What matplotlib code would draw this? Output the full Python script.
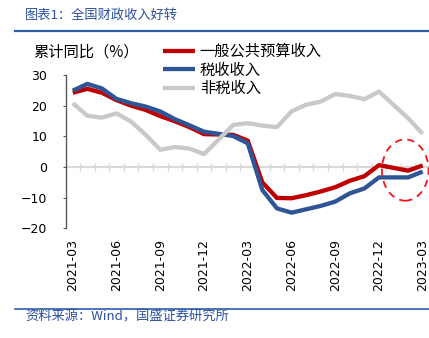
import numpy as np
import matplotlib
matplotlib.use('Agg')
import matplotlib.pyplot as plt
from matplotlib.lines import Line2D
from matplotlib.patches import Ellipse

# 数据 (累计同比, %)；1月与2月合并公布，1月为空
months = ['2021-03', '2021-04', '2021-05', '2021-06', '2021-07', '2021-08',
          '2021-09', '2021-10', '2021-11', '2021-12', '2022-01', '2022-02',
          '2022-03', '2022-04', '2022-05', '2022-06', '2022-07', '2022-08',
          '2022-09', '2022-10', '2022-11', '2022-12', '2023-01', '2023-02',
          '2023-03']
general_budget = [24.2, 25.5, 24.2, 21.8, 20.0, 18.6, 16.6, 14.9, 13.0, 10.7,
                  None, 10.5, 8.6, -5.0, -10.1, -10.2, -9.2, -8.0, -6.6, -4.5,
                  -3.0, 0.6, None, -1.2, 0.5]
tax_revenue = [24.9, 27.1, 25.6, 22.2, 20.8, 19.7, 18.1, 15.6, 13.6, 11.5,
               None, 10.1, 7.7, -7.5, -13.5, -14.9, -13.8, -12.7, -11.3, -8.6,
               -7.0, -3.4, None, -3.4, -1.5]
non_tax_revenue = [20.8, 16.7, 16.1, 17.5, 14.8, 10.5, 5.6, 6.5, 6.0, 4.2,
                   None, 13.7, 14.3, 13.5, 13.0, 18.1, 20.3, 21.3, 23.8, 23.2,
                   22.1, 24.6, None, 15.9, 10.8]
series_names = ['一般公共预算收入', '税收收入', '非税收入']
tick_labels = months[::3]
highlight_month = '2023-02'
highlight_value = -1.0

CJK = ['Noto Sans CJK SC', 'DejaVu Sans']
BLUE_TXT = '#2B4F9E'
colors = ['#C00000', '#2F5597', '#C9C9C9']

plt.rcParams['font.family'] = ['DejaVu Sans', 'Noto Sans CJK SC']

fig = plt.figure(figsize=(4.29, 3.38), dpi=100)
ax = fig.add_axes([65.5 / 429, 1 - 228.3 / 338, 364.5 / 429, 153.3 / 338])

x = np.arange(len(months))
for vals, name, col in zip([general_budget, tax_revenue, non_tax_revenue],
                           series_names, colors):
    v = np.array([np.nan if a is None else a for a in vals], dtype=float)
    ok = ~np.isnan(v)
    ax.plot(x[ok], v[ok], color=col, lw=3.1, label=name,
            solid_joinstyle='round', solid_capstyle='butt', zorder=3)

ax.set_xlim(-0.5, len(months) - 0.5)
ax.set_ylim(-20, 30)
ax.set_yticks(np.arange(-20, 31, 10))
ax.set_xticks(x[::3])
ax.set_xticklabels(tick_labels, rotation=90)
ax.tick_params(axis='x', length=0, pad=7.7, labelsize=9)
ax.tick_params(axis='y', direction='out', length=2.2, width=0.8,
               color='#595959', pad=11, labelsize=9)
for s in ['top', 'right', 'bottom']:
    ax.spines[s].set_visible(False)
ax.spines['left'].set_color('#595959')
ax.spines['left'].set_linewidth(1.0)

# 零轴及月度刻度
ymin, ymax = ax.get_ylim()
zero_ax = ax.secondary_xaxis((0 - ymin) / (ymax - ymin))
zero_ax.set_xticks(x[:-1] + 0.5)
zero_ax.set_xticklabels([])
zero_ax.tick_params(direction='inout', length=6, width=1, color='#D9D9D9')
for s in zero_ax.spines.values():
    s.set_color('#D9D9D9')
    s.set_linewidth(1.5)

# 红色虚线圈
hx = months.index(highlight_month) - 0.2
ax.add_patch(Ellipse((hx, highlight_value), 3.2, 20, fill=False,
                     edgecolor='#F0141E', lw=1.3, linestyle=(0, (4, 3)),
                     clip_on=False, zorder=4))

leg = ax.legend(loc='upper left', bbox_to_anchor=(163 / 429, 1 - 43 / 338),
                bbox_transform=fig.transFigure, frameon=False,
                prop={'family': CJK, 'size': 11}, handlelength=2.1,
                handletextpad=0.3, labelspacing=0.1, borderpad=0,
                borderaxespad=0)

fig.text(33 / 429, 1 - 52 / 338, '累计同比（%）', family=CJK, fontsize=11,
         va='center', ha='left')

# 标题与来源
fig.text(25 / 429, 1 - 15 / 338, '图表1：全国财政收入好转', family=CJK,
         fontsize=9.5, style='italic', color=BLUE_TXT, va='center')
fig.add_artist(Line2D([15 / 429, 1], [1 - 31 / 338] * 2,
                      transform=fig.transFigure, color='#2E5DA8', lw=1.6))
fig.add_artist(Line2D([15 / 429, 1], [1 - 309 / 338] * 2,
                      transform=fig.transFigure, color='#2E5DA8', lw=1.2))
fig.text(25 / 429, 1 - 317.5 / 338, '资料来源：Wind，国盛证券研究所',
         family=CJK, fontsize=9.5, style='italic', color=BLUE_TXT,
         va='center')

fig.savefig('out.png', dpi=100)
